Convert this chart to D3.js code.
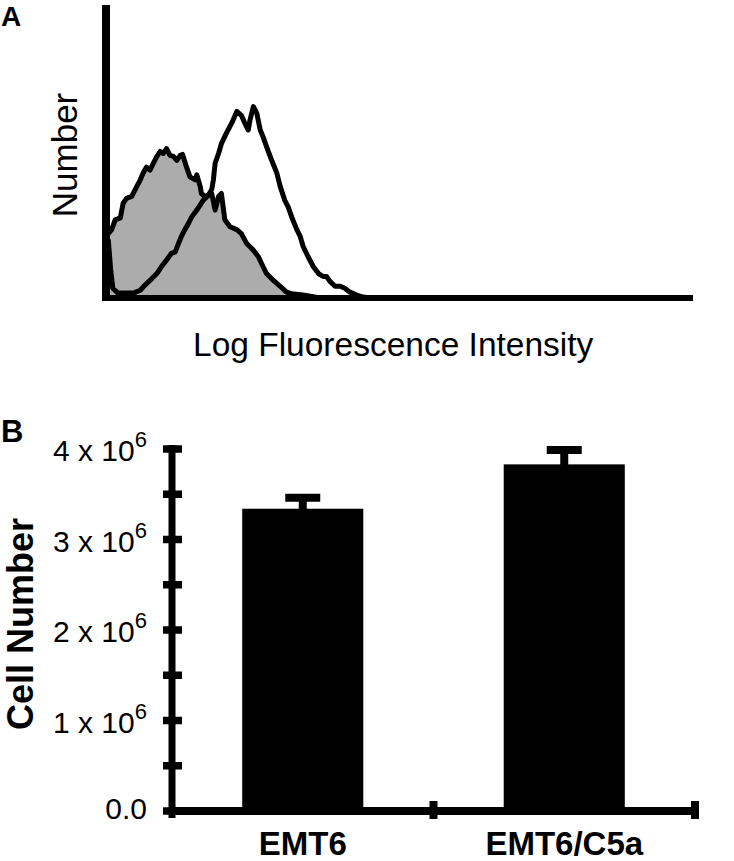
<!DOCTYPE html>
<html><head><meta charset="utf-8">
<script src="https://cdn.jsdelivr.net/npm/d3@7"></script>
<style>
body{margin:0;background:#fff}
svg{display:block}
text{font-family:Arial,"Liberation Sans",Helvetica,sans-serif;fill:#000}
</style>
</head><body>
<svg id="c" width="734" height="861"></svg>
<script>
// ---------- Panel A: flow cytometry histograms ----------
const filledChannels = [4,10,16,25,30,36,45,51,60,65,71,77,83,89,95,100,106,112,118,124,130,134,141,147,156,159,165,167,173,185,191,197,202,208,217,229,237,246,258,267,275,281,293,305,316,328,345,375];
const filledCounts   = [66,70,80,82,97,102,104,111,121,128,134,131,138,145,150,148,153,146,145,141,146,147,134,124,121,126,114,107,104,107,90,104,107,80,73,70,66,56,49,42,32,25,18,12,6,4,3,0];
const openChannels = [4,8,12,21,30,48,60,68,77,89,97,106,115,121,127,132,138,144,150,159,170,179,185,188,191,197,202,211,220,229,237,243,249,252,258,264,270,275,281,290,299,305,313,319,325,334,340,345,354,363,372,380,386,392,401,410,418,427,439,450,462];
const openCounts   = [60,30,10,5,5,5,8,13,18,25,32,39,46,47,56,63,70,76,83,90,100,105,111,121,138,148,158,169,179,191,187,179,172,182,196,189,172,165,155,141,128,114,100,93,83,70,63,53,42,32,25,22,22,17,12,12,10,6,3,1,0];
const histXLabel = "Log Fluorescence Intensity";
const histYLabel = "Number";

// ---------- Panel B: cell number bar chart ----------
const categories = ["EMT6", "EMT6/C5a"];
const cellNumbers = [3.34e6, 3.83e6];
const cellErrors  = [0.12e6, 0.16e6];
const yTickValues = [0, 0.5e6, 1e6, 1.5e6, 2e6, 2.5e6, 3e6, 3.5e6, 4e6];
const yTickLabels = ["0.0", "", "1 x 10|6", "", "2 x 10|6", "", "3 x 10|6", "", "4 x 10|6"];
const barYLabel = "Cell Number";

const svg = d3.select("#c");

// ===== Panel A =====
const xA = d3.scaleLinear().domain([0, 1024]).range([106, 691]);
const yA = d3.scaleLinear().domain([0, 300]).range([298, 5]);
const gA = svg.append("g");

const filled = filledChannels.map((c, i) => ({c, n: filledCounts[i]}));
const open = openChannels.map((c, i) => ({c, n: openCounts[i]}));

gA.append("path").datum(filled)
  .attr("d", d3.area().x(d => xA(d.c)).y0(yA(0)).y1(d => yA(d.n)))
  .attr("fill", "#acacac");
const lineA = d3.line().x(d => xA(d.c)).y(d => yA(d.n));
gA.append("path").datum(filled).attr("d", lineA)
  .attr("fill", "none").attr("stroke", "#000").attr("stroke-width", 5)
  .attr("stroke-linejoin", "round");
gA.append("path").datum(open).attr("d", lineA)
  .attr("fill", "none").attr("stroke", "#000").attr("stroke-width", 5)
  .attr("stroke-linejoin", "round");

// axes of panel A
gA.append("line").attr("x1", xA(0)).attr("x2", xA(0))
  .attr("y1", yA(300)).attr("y2", yA(0) + 3)
  .attr("stroke", "#000").attr("stroke-width", 8);
gA.append("line").attr("x1", xA(0) - 4).attr("x2", xA(1024) + 2)
  .attr("y1", yA(0)).attr("y2", yA(0))
  .attr("stroke", "#000").attr("stroke-width", 6);

gA.append("text").attr("x", 1).attr("y", 26)
  .attr("font-size", 28).attr("font-weight", "bold").text("A");
gA.append("text").attr("transform", "translate(77,155) rotate(-90)")
  .attr("text-anchor", "middle").attr("font-size", 35).text(histYLabel);
gA.append("text").attr("x", 193).attr("y", 356)
  .attr("font-size", 33.5).text(histXLabel);

// ===== Panel B =====
const xB = d3.scaleBand().domain(categories).range([172, 695]).padding(0);
const yB = d3.scaleLinear().domain([0, 4e6]).range([811, 449]);
const gB = svg.append("g");
const barFrac = 0.463;

const data = categories.map((c, i) => ({c, v: cellNumbers[i], e: cellErrors[i]}));

// bars
gB.selectAll("rect.bar").data(data).join("rect").attr("class", "bar")
  .attr("x", d => xB(d.c) + xB.bandwidth() * (1 - barFrac) / 2)
  .attr("width", xB.bandwidth() * barFrac)
  .attr("y", d => yB(d.v))
  .attr("height", d => yB(0) - yB(d.v))
  .attr("fill", "#000");

// error bars
gB.selectAll("line.err").data(data).join("line").attr("class", "err")
  .attr("x1", d => xB(d.c) + xB.bandwidth() / 2)
  .attr("x2", d => xB(d.c) + xB.bandwidth() / 2)
  .attr("y1", d => yB(d.v) + 1)
  .attr("y2", d => yB(d.v + d.e))
  .attr("stroke", "#000").attr("stroke-width", 8);
gB.selectAll("line.cap").data(data).join("line").attr("class", "cap")
  .attr("x1", d => xB(d.c) + xB.bandwidth() / 2 - 17.5)
  .attr("x2", d => xB(d.c) + xB.bandwidth() / 2 + 17.5)
  .attr("y1", d => yB(d.v + d.e))
  .attr("y2", d => yB(d.v + d.e))
  .attr("stroke", "#000").attr("stroke-width", 8);

// y axis
const x0 = xB.range()[0];
gB.append("line").attr("x1", x0).attr("x2", x0)
  .attr("y1", yB(4e6) - 4).attr("y2", yB(0) + 7)
  .attr("stroke", "#000").attr("stroke-width", 7);
gB.selectAll("line.ytick").data(yTickValues).join("line").attr("class", "ytick")
  .attr("x1", x0 - 9).attr("x2", x0 + 10)
  .attr("y1", d => yB(d)).attr("y2", d => yB(d))
  .attr("stroke", "#000").attr("stroke-width", 7.5);

const lab = gB.selectAll("text.ylab").data(yTickValues.map((v, i) => ({v, t: yTickLabels[i]})).filter(d => d.t))
  .join("text").attr("class", "ylab")
  .attr("x", 147).attr("y", d => yB(d.v) + (d.v === 0 ? 8 : 12))
  .attr("text-anchor", "end").attr("font-size", 30);
lab.each(function(d) {
  const parts = d.t.split("|");
  const t = d3.select(this);
  t.append("tspan").text(parts[0]);
  if (parts[1]) t.append("tspan").attr("font-size", 22).attr("dy", -14).text(parts[1]);
});

// x axis
gB.append("line").attr("x1", x0).attr("x2", xB.range()[1] + 3)
  .attr("y1", yB(0)).attr("y2", yB(0))
  .attr("stroke", "#000").attr("stroke-width", 8);
gB.selectAll("line.xtick").data(categories).join("line").attr("class", "xtick")
  .attr("x1", d => xB(d) + xB.bandwidth()).attr("x2", d => xB(d) + xB.bandwidth())
  .attr("y1", yB(0) - 10).attr("y2", yB(0) + 8)
  .attr("stroke", "#000").attr("stroke-width", 8);

gB.selectAll("text.xlab").data(categories).join("text").attr("class", "xlab")
  .attr("x", d => xB(d) + xB.bandwidth() / 2).attr("y", 855)
  .attr("text-anchor", "middle").attr("font-size", 33).attr("font-weight", "bold")
  .text(d => d);

gB.append("text").attr("x", 1).attr("y", 442)
  .attr("font-size", 31).attr("font-weight", "bold").text("B");
gB.append("text").attr("transform", "translate(33,624) rotate(-90)")
  .attr("text-anchor", "middle").attr("font-size", 36).attr("font-weight", "bold")
  .text(barYLabel);
</script>
</body></html>
